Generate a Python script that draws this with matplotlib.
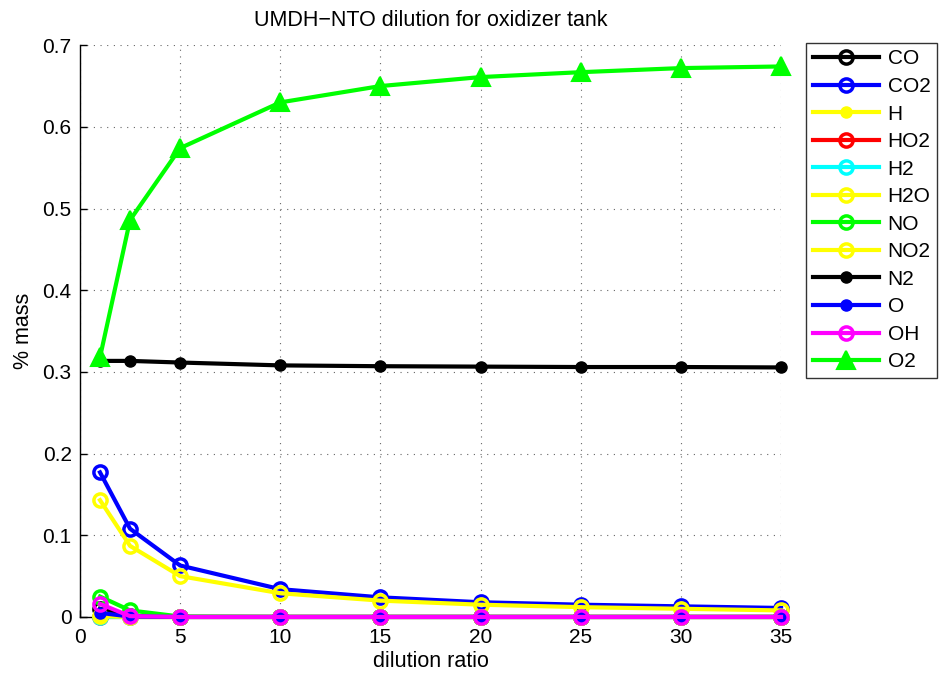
import matplotlib
matplotlib.use("Agg")
import matplotlib.pyplot as plt

plt.rcParams['font.family'] = ['Liberation Sans', 'DejaVu Sans']

# dilution ratios sampled
dilution = [1, 2.5, 5, 10, 15, 20, 25, 30, 35]

# species mass fractions (in %)
species = ['CO', 'CO2', 'H', 'HO2', 'H2', 'H2O', 'NO', 'NO2', 'N2', 'O', 'OH', 'O2']
co = [0.010, 0.001, 0.0, 0.0, 0.0, 0.0, 0.0, 0.0, 0.0]
co2 = [0.177, 0.108, 0.063, 0.034, 0.024, 0.018, 0.015, 0.013, 0.011]
h = [0.001, 0.0, 0.0, 0.0, 0.0, 0.0, 0.0, 0.0, 0.0]
ho2 = [0.0, 0.0, 0.0, 0.0, 0.0, 0.0, 0.0, 0.0, 0.0]
h2 = [0.0, 0.0, 0.0, 0.0, 0.0, 0.0, 0.0, 0.0, 0.0]
h2o = [0.143, 0.087, 0.050, 0.029, 0.020, 0.015, 0.012, 0.010, 0.008]
no = [0.025, 0.008, 0.0005, 0.0, 0.0, 0.0, 0.0, 0.0, 0.0]
no2 = [0.001, 0.0, 0.0, 0.0, 0.0, 0.0, 0.0, 0.0, 0.0]
n2 = [0.3135, 0.3135, 0.3115, 0.308, 0.307, 0.3065, 0.306, 0.306, 0.3055]
o = [0.005, 0.0005, 0.0, 0.0, 0.0, 0.0, 0.0, 0.0, 0.0]
oh = [0.016, 0.001, 0.0, 0.0, 0.0, 0.0, 0.0, 0.0, 0.0]
o2 = [0.318, 0.486, 0.574, 0.630, 0.650, 0.661, 0.667, 0.672, 0.674]

values = [co, co2, h, ho2, h2, h2o, no, no2, n2, o, oh, o2]
colors = ['#000000', '#0000ff', '#ffff00', '#ff0000', '#00ffff', '#ffff00',
          '#00ff00', '#ffff00', '#000000', '#0000ff', '#ff00ff', '#00ff00']
markers = ['o', 'o', 'o', 'o', 'o', 'o', 'o', 'o', 'o', 'o', 'o', '^']
filled = [False, False, True, False, False, False, False, False, True, True, False, True]

fig = plt.figure(figsize=(9.41, 6.75), dpi=100)
ax = fig.add_axes([0.085, 0.086, 0.745, 0.847])

for name, vals, c, m, f in zip(species, values, colors, markers, filled):
    if m == '^':
        ms, mew = 13, 1.5
    elif f:
        ms, mew = 8, 1.0
    else:
        ms, mew = 9.5, 2.5
    ax.plot(dilution, vals, color=c, lw=3, marker=m, markersize=ms,
            markerfacecolor=c if f else 'none', markeredgecolor=c,
            markeredgewidth=mew, label=name, clip_on=False, zorder=3)

ax.set_xlim(0, 35)
ax.set_ylim(0, 0.7)
ax.set_xticks(range(0, 36, 5))
ax.set_yticks([0, 0.1, 0.2, 0.3, 0.4, 0.5, 0.6, 0.7])
ax.set_yticklabels(['0', '0.1', '0.2', '0.3', '0.4', '0.5', '0.6', '0.7'])
ax.grid(True, linestyle=(0, (1, 5)), color='#666666', linewidth=0.8)
ax.set_axisbelow(True)
for s in ['top', 'right']:
    ax.spines[s].set_visible(False)
for s in ['left', 'bottom']:
    ax.spines[s].set_linewidth(1.0)
ax.tick_params(direction='in', length=5, labelsize=15, width=1)
ax.tick_params(axis='x', pad=8)
ax.tick_params(axis='y', pad=6)

ax.set_title('UMDH\u2212NTO dilution for oxidizer tank', fontsize=15.5, pad=14)
ax.set_xlabel('dilution ratio', fontsize=15.5, labelpad=3)
ax.set_ylabel('% mass', fontsize=15.5, labelpad=6)

leg = fig.legend(loc='upper left', bbox_to_anchor=(0.857, 0.936), fontsize=15,
                 handlelength=3.2, frameon=True, fancybox=False, borderpad=0.3,
                 labelspacing=0.41, handletextpad=0.4, borderaxespad=0)
leg.get_frame().set_edgecolor('black')
leg.get_frame().set_linewidth(1.0)

fig.savefig('out.png', dpi=100)
